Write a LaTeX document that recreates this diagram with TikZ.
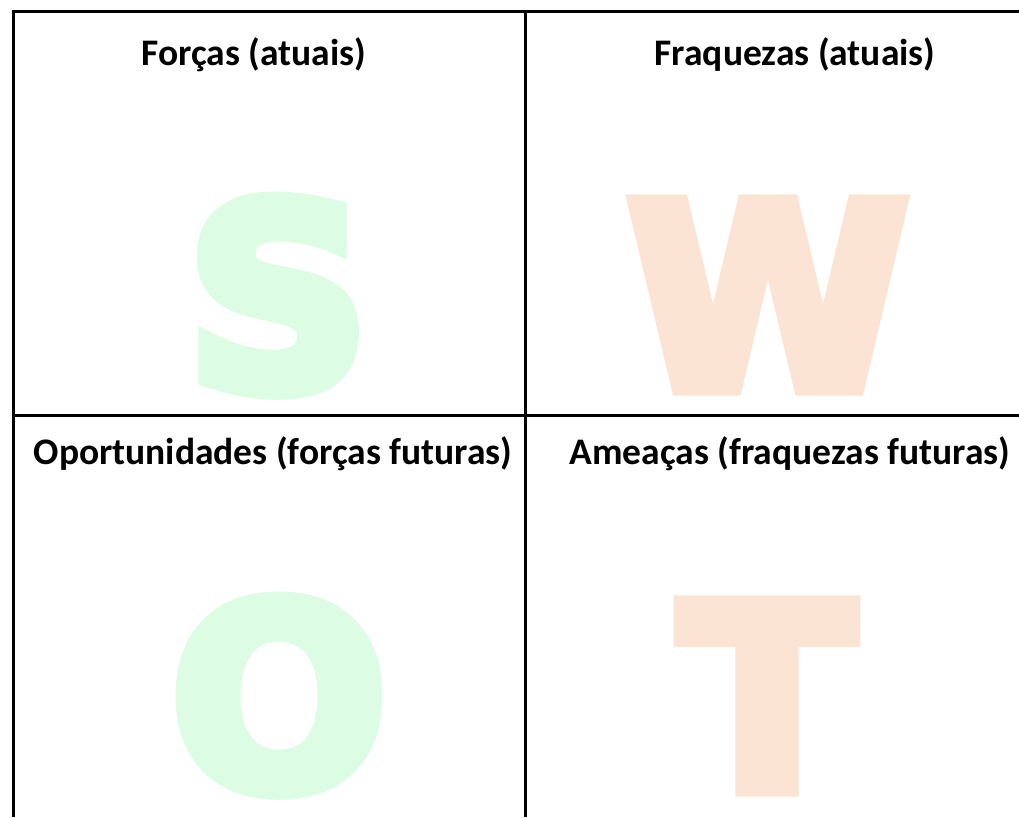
\documentclass[tikz,border=0pt]{standalone}
\usepackage{fontspec}
\setmainfont{Carlito}
\newfontfamily\swotfont{DejaVu Sans}[BoldFeatures={FakeBold=6}]
\usepackage{xcolor}
\definecolor{swotgreen}{RGB}{220,252,227}
\definecolor{swotorange}{RGB}{252,228,212}

\begin{document}
\begin{tikzpicture}[x=1pt,y=-1pt,line width=3pt,
  heading/.style={font=\bfseries\fontsize{37.5}{40}\selectfont,anchor=base,inner sep=0pt},
  big letter/.style={font=\swotfont\bfseries\fontsize{255}{255}\selectfont,anchor=base,inner sep=0pt}]

    \useasboundingbox (0,0) rectangle (1019,817);

    % big letters behind
    \node[big letter, text=swotgreen] (S) at (278,388.5) {S};
    \node[big letter, text=swotorange] (W) at (768,388) {W};
    \node[big letter, text=swotgreen] (O) at (279,788.5) {O};
    \node[big letter, text=swotorange] (T) at (767,789) {T};

    % headings
    \node[heading] (forcas) at (254,65) {Forças (atuais)};
    \node[heading] (fraquezas) at (795,65) {Fraquezas (atuais)};
    \node[heading] (oport) at (273,464) {Oportunidades (forças futuras)};
    \node[heading] (ameacas) at (790,464) {Ameaças (fraquezas futuras)};

    % grid
    \coordinate (tl) at (13.5,11.5);
    \coordinate (tr) at (1019,11.5);
    \coordinate (bl) at (13.5,817);
    \draw (bl) -- (tl) -- (tr);
    \draw (525,11.5) -- (525,817);
    \draw (13.5,415.5) -- (1019,415.5);
\end{tikzpicture}
\end{document}
